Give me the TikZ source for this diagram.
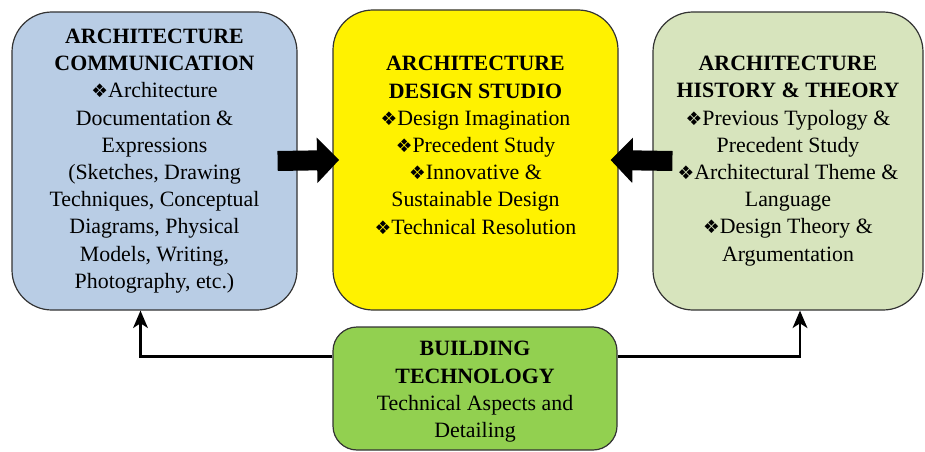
\documentclass[tikz,border=0pt]{standalone}
\usepackage{fontspec}
\setmainfont{Liberation Serif}
\newfontfamily\symbfont{DejaVu Sans}
\usepackage{tikz}
\usetikzlibrary{arrows.meta}
\newcommand{\dia}{\smash{\symbfont\fontsize{14}{14}\selectfont ❖}}

\begin{document}
\begin{tikzpicture}[x=0.75pt,y=0.75pt,
	box/.style={draw=black!80,line width=0.9pt,rounded corners=30pt,inner sep=0pt},
	boxtext/.style={align=center,font=\fontsize{16.4}{20.4}\selectfont},
	bigarrow/.style={line width=15pt,-{Triangle[length=16.5pt,width=33pt]}},
	link/.style={line width=2.2pt,-{Stealth[length=13pt,width=11pt,inset=3.5pt]}}]
\useasboundingbox (0,0) rectangle (925,451);
\node [box,fill={rgb,255:red,185;green,205;blue,229},minimum width=213.75pt,minimum height=223.5pt] (comm) at (154.5,290) {};
\node [box,fill=yellow,minimum width=213.75pt,minimum height=225pt] (studio) at (475.5,291) {};
\node [box,fill={rgb,255:red,215;green,228;blue,189},minimum width=202.5pt,minimum height=223.5pt] (hist) at (788,290) {};
\node [box,fill={rgb,255:red,146;green,208;blue,80},rounded corners=18pt,minimum width=213pt,minimum height=92.25pt] (tech) at (475,62.5) {};
\node [boxtext] (commtext) at (comm) {\textbf{ARCHITECTURE}\\ \textbf{COMMUNICATION}\\ \dia Architecture\\ Documentation \&\\ Expressions\\ (Sketches, Drawing\\ Techniques, Conceptual\\ Diagrams, Physical\\ Models, Writing,\\ Photography, etc.)};
\node [boxtext] (studiotext) at ([yshift=11pt]studio.center) {\textbf{ARCHITECTURE}\\ \textbf{DESIGN STUDIO}\\ \dia Design Imagination\\ \dia Precedent Study\\ \dia Innovative \&\\ Sustainable Design\\ \dia Technical Resolution};
\node [boxtext] (histtext) at (hist) {\textbf{ARCHITECTURE}\\ \textbf{HISTORY \& THEORY}\\ \dia Previous Typology \&\\ Precedent Study\\ \dia Architectural Theme \&\\ Language\\ \dia Design Theory \&\\ Argumentation};
\node [boxtext] (techtext) at ([yshift=-2.5pt]tech.center) {\textbf{BUILDING}\\ \textbf{TECHNOLOGY}\\ Technical Aspects and\\ Detailing};
\draw [bigarrow] ([xshift=-15pt]comm.east) -- ([xshift=5pt]studio.west);
\draw [bigarrow] ([xshift=15pt]hist.west) -- ([xshift=-6pt]studio.east);
\draw [link] ([yshift=-22.5pt]tech.north west) -| ([xshift=-10.5pt]comm.south);
\draw [link] ([yshift=-22.5pt]tech.north east) -| ([xshift=9pt]hist.south);
\end{tikzpicture}
\end{document}
